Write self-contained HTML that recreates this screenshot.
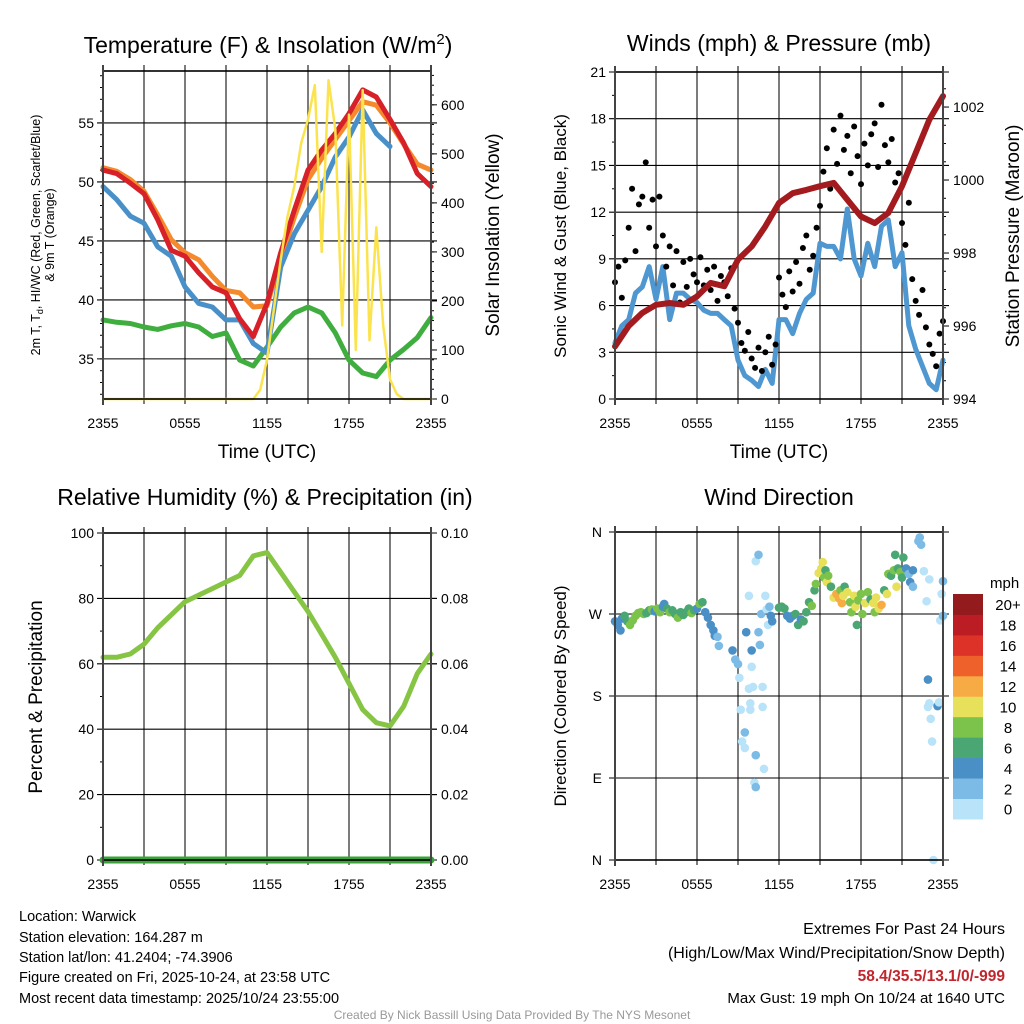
<!DOCTYPE html>
<html><head><meta charset="utf-8"><style>
html,body{margin:0;padding:0;background:#fff;}
svg{display:block;font-family:"Liberation Sans",Arial,sans-serif;}
</style></head><body>
<svg id="fig" width="1024" height="1024" viewBox="0 0 1024 1024" xmlns="http://www.w3.org/2000/svg">
<rect x="0" y="0" width="1024" height="1024" fill="#fff"/>
<text x="268" y="53" font-size="23" text-anchor="middle">Temperature (F) &amp; Insolation (W/m<tspan dy="-9" font-size="15">2</tspan><tspan dy="9">)</tspan></text>
<text x="779" y="51" font-size="23" text-anchor="middle">Winds (mph) &amp; Pressure (mb)</text>
<text x="265" y="505" font-size="23" text-anchor="middle">Relative Humidity (%) &amp; Precipitation (in)</text>
<text x="779" y="505" font-size="23" text-anchor="middle">Wind Direction</text>
<text x="267" y="458" font-size="19" text-anchor="middle">Time (UTC)</text>
<text x="779" y="458" font-size="19" text-anchor="middle">Time (UTC)</text>
<g>
<text transform="translate(40,235) rotate(-90)" font-size="12.5" text-anchor="middle">2m T, T<tspan dy="3" font-size="9">d</tspan><tspan dy="-3">, HI/WC (Red, Green, Scarlet/Blue)</tspan></text>
<text transform="translate(54,235) rotate(-90)" font-size="12.5" text-anchor="middle">&amp; 9m T (Orange)</text>
</g>
<text transform="translate(499,235) rotate(-90)" font-size="19" text-anchor="middle">Solar Insolation (Yellow)</text>
<text transform="translate(566,236) rotate(-90)" font-size="17" text-anchor="middle">Sonic Wind &amp; Gust (Blue, Black)</text>
<text transform="translate(1019,236) rotate(-90)" font-size="19" text-anchor="middle">Station Pressure (Maroon)</text>
<text transform="translate(42,697) rotate(-90)" font-size="19" text-anchor="middle">Percent &amp; Precipitation</text>
<text transform="translate(566,696) rotate(-90)" font-size="17" text-anchor="middle">Direction (Colored By Speed)</text>
<g font-size="14.5">
<text x="19" y="921">Location: Warwick</text>
<text x="19" y="942">Station elevation: 164.287 m</text>
<text x="19" y="962">Station lat/lon: 41.2404; -74.3906</text>
<text x="19" y="982">Figure created on Fri, 2025-10-24, at 23:58 UTC</text>
<text x="19" y="1003">Most recent data timestamp: 2025/10/24 23:55:00</text>
</g>
<g text-anchor="end">
<text x="1005" y="934" font-size="16">Extremes For Past 24 Hours</text>
<text x="1005" y="958" font-size="16">(High/Low/Max Wind/Precipitation/Snow Depth)</text>
<text x="1005" y="981" font-size="15.5" font-weight="bold" fill="#c0262d">58.4/35.5/13.1/0/-999</text>
<text x="1005" y="1003" font-size="15">Max Gust: 19 mph On 10/24 at 1640 UTC</text>
</g>
<text x="512" y="1019" font-size="12" fill="#999" text-anchor="middle">Created By Nick Bassill Using Data Provided By The NYS Mesonet</text>
<text x="990" y="588" font-size="15">mph</text>
</svg>
<script>
// ---------- data ----------
const timeLabels = ["2355","0555","1155","1755","2355"];
const tempRed = [51.0,50.7,49.9,49.0,46.8,44.2,43.7,42.3,41.1,40.6,38.4,36.9,39.7,44.0,47.6,51.0,52.7,54.1,55.8,57.8,57.2,55.3,53.3,50.7,49.6];
const tempOrange = [51.2,50.9,50.2,49.2,47.2,45.1,44.0,43.4,42.0,40.8,40.6,39.4,39.5,43.5,47.0,50.2,52.0,53.6,55.2,56.8,56.5,55.0,53.2,51.5,51.0];
const tempBlue = [49.6,48.5,47.1,46.5,44.5,43.7,41.1,39.7,39.4,38.3,38.3,36.3,35.5,42.8,45.6,47.6,49.6,52.1,53.8,56.1,54.1,53.0,null,null,null];
const dewGreen = [38.3,38.1,38.0,37.7,37.5,37.8,38.0,37.7,36.9,37.2,34.9,34.4,36.0,37.7,38.9,39.4,38.9,37.2,34.9,33.8,33.5,34.9,35.8,36.8,38.5];
const solar = [0,0,0,0,0,0,0,0,0,0,0,0,0,0,0,0,0,0,0,0,0,0,0,19,80,182,284,372,434,522,570,640,300,650,550,150,580,100,630,120,350,150,40,10,0,0,0,0,0];
const tempTicks = [35,40,45,50,55];
const solarTicks = [0,100,200,300,400,500,600];
const windSpeed = [3.6,4.7,5.1,6.8,7.2,8.5,6.4,8.5,5.1,6.8,6.8,6.4,6.2,5.7,5.5,5.5,5.1,4.7,2.5,1.5,1.2,0.8,1.9,1.0,5.1,5.1,4.2,5.5,6.4,6.8,10,9.8,9.8,9.0,12.2,9.0,7.9,10,8.5,11.1,11.5,8.5,9.4,4.7,3.2,2.1,1.0,0.6,2.5];
const windGust = [7.5,8.5,6.5,8.9,11,13.5,9.5,12.5,13,15.2,11,12.8,9.8,13,10.5,8.5,9.8,7.3,9.5,6.2,8.8,7.2,9,8,7.5,9.1,7.3,8.3,7.0,8.5,6.3,7.9,7.5,6.6,8.4,5.8,4.9,3.6,3.1,4.3,2.6,2.0,3.3,1.8,3.0,4.0,2.2,3.5,7.8,6.7,5.9,8.2,6.9,8.8,7.4,9.7,10.5,8.3,9.2,11.0,12.4,14.6,16.1,13.5,17.3,15.1,18.2,16.0,16.9,14.5,17.5,15.6,13.8,16.4,15.0,17.0,17.7,14.9,18.9,16.3,15.2,16.7,13.9,14.5,11.3,9.9,12.6,7.7,6.3,5.4,7.0,4.6,3.5,2.9,2.1,4.2,5.0];
const pressure = [995.44,996.0,996.36,996.58,996.63,996.58,996.81,997.18,997.09,997.82,998.18,998.73,999.37,999.64,999.73,999.83,999.92,999.46,999.0,998.82,999.1,999.83,1000.74,1001.65,1002.3];
const windTicks = [0,3,6,9,12,15,18,21];
const pressTicks = [994,996,998,1000,1002];
const rh = [62,62,63,66,71,75,79,81,83,85,87,93,94,88,82,76,69,62,54,46,42,41,47,57,63];
const precip = [0,0,0,0,0,0,0,0,0,0,0,0,0,0,0,0,0,0,0,0,0,0,0,0,0];
const rhTicks = [0,20,40,60,80,100];
const precipTicks = ["0.00","0.02","0.04","0.06","0.08","0.10"];
const dirHour = [0.0,0.2,0.4,0.5,0.7,0.9,1.1,1.3,1.5,1.7,1.9,2.1,2.3,2.5,2.7,2.9,3.1,3.3,3.5,3.6,3.8,4.0,4.2,4.4,4.6,4.8,5.0,5.2,5.4,5.6,5.8,6.0,6.2,6.4,6.6,6.8,7.0,7.2,7.3,7.5,7.6,8.6,8.8,9.0,9.1,9.2,9.3,9.5,9.5,9.6,9.8,9.8,9.9,9.9,10.0,10.0,10.1,10.2,10.3,10.3,10.3,10.5,10.5,10.6,10.7,10.8,10.8,10.9,11.0,11.1,11.2,11.3,11.4,11.5,12.0,12.2,12.4,12.6,12.8,13.0,13.2,13.4,13.6,13.8,14.0,14.2,14.4,14.6,14.7,14.9,15.1,15.2,15.3,15.4,15.5,15.6,15.8,16.0,16.2,16.4,16.5,16.6,16.7,16.8,17.0,17.2,17.3,17.5,17.6,17.7,17.8,18.0,18.1,18.3,18.5,18.7,18.9,19.0,19.1,19.3,19.5,19.7,19.9,20.0,20.2,20.4,20.5,20.6,20.7,20.9,21.0,21.1,21.3,21.5,21.6,21.8,21.8,22.2,22.3,22.4,22.6,22.8,23.0,22.9,22.9,23.0,23.1,23.2,23.3,23.6,23.7,23.8,23.9,24.0,24.0];
const dirDeg = [262,258,252,265,268,262,258,263,268,271,272,270,271,274,275,273,276,272,278,281,276,272,274,270,266,272,269,272,276,271,274,276,281,283,272,266,258,252,246,245,235,230,220,215,200,165,130,123,140,250,290,188,172,165,230,212,190,85,80,115,328,335,250,236,270,190,168,100,290,275,258,278,268,262,277,278,276,268,265,268,270,258,264,262,272,283,279,296,303,315,320,327,310,318,305,312,300,288,292,287,296,282,290,300,294,283,272,290,278,258,285,292,270,282,294,286,282,272,288,276,280,296,292,314,312,318,335,300,320,316,310,332,320,314,305,300,318,350,354,346,317,284,308,198,168,172,155,130,0,169,173,263,292,306,268];
const dirSpeed = [3,4,4,4,5,6,8,7,8,8,7,8,6,6,7,4,8,7,4,4,5,7,6,5,7,6,5,5,6,7,6,4,7,6,4,4,4,3,3,2,2,3,1,1,0,0,0,0,1,3,0,0,0,0,3,0,0,0,2,2,0,2,2,2,2,0,0,0,0,0,0,2,4,4,6,6,5,4,4,4,6,6,4,6,6,6,8,6,8,10,10,10,8,6,10,8,6,10,12,12,8,12,10,6,10,8,8,10,10,6,8,8,8,10,8,6,10,8,10,10,12,6,10,8,6,8,6,10,6,8,6,6,4,2,4,2,4,2,2,2,0,0,0,4,0,0,0,0,0,4,0,0,0,2,2];
const speedLabels = ["0","2","4","6","8","10","12","14","16","18","20+"];
const speedColors = ["#b8e3f8","#7cbbe5","#4a8fc6","#4aa673","#7cc34c","#e6e05a","#f7ab45","#ef612a","#dd3228","#bc1c24","#931a1d"];
const dirLabels = ["N","E","S","W","N"];

// ---------- helpers ----------
const NS = "http://www.w3.org/2000/svg";
const svg = document.getElementById("fig");
function mk(tag, attrs, parent) {
  const e = document.createElementNS(NS, tag);
  for (const k in attrs) e.setAttribute(k, attrs[k]);
  (parent || svg).appendChild(e);
  return e;
}
const P1 = {x0:103,x1:431,y0:71,y1:399};
const P2 = {x0:615,x1:943,y0:72,y1:399};
const P3 = {x0:103,x1:431,y0:533,y1:860};
const P4 = {x0:615,x1:943,y0:532,y1:860};
function xs(P, h) { return P.x0 + h / 24 * (P.x1 - P.x0); }
function ysc(P, lo, hi) { return v => P.y1 - (v - lo) / (hi - lo) * (P.y1 - P.y0); }

function frame(P, name) {
  const g = mk("g", {});
  
  
  for (let h = 3; h < 24; h += 3) {
    const x = xs(P, h);
    mk("line", {x1:x, x2:x, y1:P.y0-6, y2:P.y1+5, stroke:"#444", "stroke-width":1.4}, g);
  }
  return g;
}
function hgrid(g, P, y) { mk("line", {x1:P.x0-6, x2:P.x1+6, y1:y, y2:y, stroke:"#000", "stroke-width":1.1}, g); }
function border(P, name) {
  const r = mk("rect", {x:P.x0, y:P.y0, width:P.x1-P.x0, height:P.y1-P.y0, fill:"none", stroke:"#000", "stroke-width":1.6});
  
  
  mk("line", {x1:P.x0, x2:P.x0, y1:P.y0-6, y2:P.y1+6, stroke:"#444", "stroke-width":2});
  mk("line", {x1:P.x1, x2:P.x1, y1:P.y0-6, y2:P.y1+6, stroke:"#444", "stroke-width":2});
}
function xlabels(P, name) {
  const g = mk("g", {"font-size":14, "text-anchor":"middle"});
  
  
  timeLabels.forEach((t, i) => {
    const tx = mk("text", {x:xs(P, i*6), y:P.y1+29}, g);
    tx.textContent = t;
  });
}
function lineSeries(P, vals, step, yf, color, w, name) {
  let d = "", pen = false;
  vals.forEach((v, i) => {
    if (v === null) { pen = false; return; }
    d += (pen ? "L" : "M") + xs(P, i*step).toFixed(1) + "," + yf(v).toFixed(1);
    pen = true;
  });
  const p = mk("path", {d:d, fill:"none", stroke:color, "stroke-width":w, "stroke-linejoin":"round", "stroke-linecap":"round"});
  
  
}

// ---------- panel 1 ----------
{
  const P = P1;
  const yT = ysc(P, 31.6, 59.4), yS = ysc(P, 0, 669);
  const g = frame(P, "temperature");
  tempTicks.forEach(v => hgrid(g, P, yT(v)));
  const tl = mk("g", {"font-size":14, "text-anchor":"end"});
  
  
  tempTicks.forEach(v => { const t = mk("text", {x:P.x0-9, y:yT(v)+5}, tl); t.textContent = v; });
  for (let v = 32; v <= 59; v++) mk("line", {x1:P.x0-3, x2:P.x0, y1:yT(v), y2:yT(v), stroke:"#000"});
  const sl = mk("g", {"font-size":14});
  
  
  solarTicks.forEach(v => { const t = mk("text", {x:P.x1+10, y:yS(v)+5}, sl); t.textContent = v; mk("line", {x1:P.x1, x2:P.x1+6, y1:yS(v), y2:yS(v), stroke:"#000"}); });
  for (let v = 20; v <= 660; v += 20) mk("line", {x1:P.x1, x2:P.x1+3, y1:yS(v), y2:yS(v), stroke:"#000"});
  lineSeries(P, dewGreen, 1, yT, "#3fae3f", 5, "dewpoint-line");
  lineSeries(P, tempOrange, 1, yT, "#f58a2c", 5, "temp-9m-line");
  lineSeries(P, tempBlue, 1, yT, "#4a90c8", 5, "heat-index-line");
  lineSeries(P, tempRed, 1, yT, "#d72027", 5, "temp-2m-line");
  lineSeries(P, solar, 0.5, yS, "#fbe34e", 2.5, "solar-insolation-line");
  border(P, "temperature");
  xlabels(P, "temperature");
}
// ---------- panel 2 ----------
{
  const P = P2;
  const yW = ysc(P, 0, 21), yP = ysc(P, 994, 1002.96);
  const g = frame(P, "winds");
  windTicks.forEach(v => hgrid(g, P, yW(v)));
  const wl = mk("g", {"font-size":14, "text-anchor":"end"});
  
  
  windTicks.forEach(v => { const t = mk("text", {x:P.x0-9, y:yW(v)+5}, wl); t.textContent = v; });
  for (let v = 1.5; v < 21; v += 3) mk("line", {x1:P.x0-3, x2:P.x0, y1:yW(v), y2:yW(v), stroke:"#000"});
  const pl = mk("g", {"font-size":14});
  
  
  pressTicks.forEach(v => { const t = mk("text", {x:P.x1+10, y:yP(v)+5}, pl); t.textContent = v; mk("line", {x1:P.x1, x2:P.x1+6, y1:yP(v), y2:yP(v), stroke:"#000"}); });
  for (let v = 994.5; v < 1003; v += 0.5) mk("line", {x1:P.x1, x2:P.x1+3, y1:yP(v), y2:yP(v), stroke:"#000"});
  lineSeries(P, windSpeed, 0.5, yW, "#4f97d0", 5, "sonic-wind-line");
  const gg = mk("g", {fill:"#000"});
  
  
  windGust.forEach((v, i) => {
    const c = mk("circle", {cx:xs(P, i*0.25), cy:yW(v), r:3}, gg);
    
    
  });
  lineSeries(P, pressure, 1, yP, "#a31b1e", 6, "pressure-line");
  border(P, "winds");
  xlabels(P, "winds");
}
// ---------- panel 3 ----------
{
  const P = P3;
  const yR = ysc(P, 0, 100);
  const g = frame(P, "humidity");
  rhTicks.forEach(v => hgrid(g, P, yR(v)));
  const rl = mk("g", {"font-size":14, "text-anchor":"end"});
  
  
  rhTicks.forEach(v => { const t = mk("text", {x:P.x0-9, y:yR(v)+5}, rl); t.textContent = v; });
  for (let v = 10; v < 100; v += 20) mk("line", {x1:P.x0-3, x2:P.x0, y1:yR(v), y2:yR(v), stroke:"#000"});
  const pl = mk("g", {"font-size":14});
  
  
  precipTicks.forEach((v, i) => { const t = mk("text", {x:P.x1+10, y:yR(i*20)+5}, pl); t.textContent = v; mk("line", {x1:P.x1, x2:P.x1+6, y1:yR(i*20), y2:yR(i*20), stroke:"#000"}); });
  lineSeries(P, rh, 1, yR, "#86c443", 5, "relative-humidity-line");
  lineSeries(P, precip, 1, v => yR(v*1000), "#3aa23a", 7, "precipitation-line");
  border(P, "humidity");
  xlabels(P, "humidity");
}
// ---------- panel 4 ----------
{
  const P = P4;
  const yD = ysc(P, 0, 360);
  const g = frame(P, "wind-direction");
  dirLabels.forEach((v, i) => hgrid(g, P, yD(i*90)));
  const dl = mk("g", {"font-size":14, "text-anchor":"end"});
  
  
  dirLabels.forEach((v, i) => { const t = mk("text", {x:P.x0-13, y:yD(i*90)+5}, dl); t.textContent = v; });
  const pg = mk("g", {});
  
  
  dirHour.forEach((h, i) => {
    const bin = Math.min(10, Math.floor((dirSpeed[i] + 1) / 2));
    const c = mk("circle", {cx:xs(P, h), cy:yD(dirDeg[i]), r:4.3, fill:speedColors[bin]}, pg);
    
    
  });
  border(P, "wind-direction");
  xlabels(P, "wind-direction");
  const cb = mk("g", {"font-size":15});
  
  
  const bh = 20.45, top = 594;
  speedLabels.forEach((lab, i) => {
    const k = speedLabels.length - 1 - i;
    const y = top + k * bh;
    const r = mk("rect", {x:953, y:y, width:30, height:bh+0.5, fill:speedColors[i]}, cb);
    
    
    const t = mk("text", {x:1008, y:y + bh/2 + 6, "text-anchor":"middle"}, cb);
    t.textContent = lab;
  });
}
</script>
</body></html>
